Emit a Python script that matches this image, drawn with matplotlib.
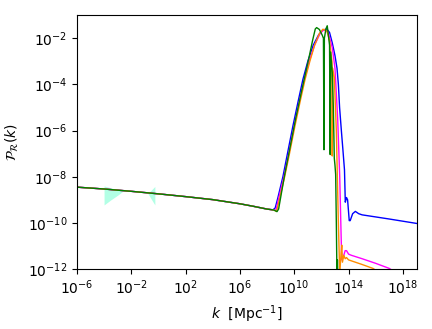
import numpy as np
import matplotlib
matplotlib.use("Agg")
import matplotlib.pyplot as plt

# values as (log10 k, log10 P) pairs
LOWK_LOGK = [-6, -4, -2, 0, 2, 4, 6, 7, 8]
LOWK_LOGP = [-8.45, -8.53, -8.63, -8.74, -8.86, -8.99, -9.17, -9.28, -9.40]

BLUE_LOGK = [8.44, 8.6, 8.8, 9.17, 9.5, 9.9, 10.3, 10.64, 11.0, 11.4, 11.8, 12.1, 12.4,
             12.6, 12.8, 13.0, 13.15, 13.25, 13.34, 13.47, 13.58, 13.7, 13.76, 13.85,
             13.93, 14.05, 14.12, 14.3, 14.5, 14.75, 15.0, 17.0, 19.0]
BLUE_LOGP = [-9.43, -9.35, -8.9, -7.99, -7.0, -5.81, -4.7, -3.78, -3.0, -2.3, -1.85, -1.65, -1.6,
             -1.75, -2.2, -2.75, -3.3, -4.0, -5.0, -6.0, -6.8, -7.7, -9.1, -8.9,
             -9.0, -9.9, -9.9, -9.6, -9.5, -9.6, -9.65, -9.83, -10.02]

MAG_LOGK = [8.5, 8.65, 8.85, 9.25, 9.6, 10.0, 10.4, 10.75, 11.1, 11.5, 11.9, 12.2, 12.5,
            12.8, 13.0, 13.2, 13.35, 13.45, 13.5, 13.6, 13.75, 13.85, 14.0, 14.2, 15.0,
            16.0, 17.0, 17.2]
MAG_LOGP = [-9.44, -9.45, -8.95, -7.99, -7.0, -5.81, -4.7, -3.78, -3.0, -2.3, -1.8, -1.62, -1.75,
            -2.4, -3.3, -5.5, -8.0, -10.5, -11.6, -11.5, -11.2, -11.2, -11.35, -11.4, -11.55,
            -11.75, -11.97, -12.05]

ORANGE_LOGK = [8.5, 8.7, 8.9, 9.3, 9.65, 10.05, 10.45, 10.8, 11.15, 11.5, 11.85, 12.11, 12.4,
               12.6, 12.7, 12.78, 12.8, 12.83, 12.95, 13.1, 13.25, 13.35, 13.45, 13.5, 13.55,
               13.65, 13.75, 13.85, 14.0, 15.0, 15.8, 16.0]
ORANGE_LOGP = [-9.44, -9.5, -9.0, -7.99, -7.0, -5.81, -4.7, -3.78, -3.0, -2.3, -1.8, -1.61, -1.68,
               -2.1, -2.6, -3.0, -7.1, -3.3, -3.7, -6.0, -10.0, -12.2, -11.3, -10.96, -11.7,
               -11.4, -11.55, -11.5, -11.6, -11.8, -11.97, -12.05]

GREEN_LOGK = [8.5, 8.73, 8.85, 9.0, 9.3, 9.7, 10.1, 10.5, 10.8, 11.1, 11.35, 11.55, 11.65,
              11.85, 12.05, 12.15, 12.19, 12.22, 12.33, 12.43, 12.5, 12.6, 12.65, 12.68,
              12.8, 12.88, 12.95, 13.0, 13.05, 13.1, 13.15, 13.18, 13.22]
GREEN_LOGP = [-9.44, -9.51, -9.4, -8.9, -7.9, -6.7, -5.5, -4.4, -3.6, -2.8, -2.1, -1.6, -1.54,
              -1.62, -1.85, -2.0, -6.83, -2.0, -1.6, -1.46, -1.8, -2.3, -7.04, -2.6,
              -3.5, -5.0, -7.2, -7.5, -7.9, -10.0, -12.5, -11.6, -12.5]

# shaded constraint wedges
FILL1_LOGK = [-4.0, -3.5, -3.0, -2.6]
FILL1_UP = [-8.40, -8.48, -8.56, -8.60]
FILL1_LO = [-9.22, -9.0, -8.8, -8.62]
FILL2_LOGK = [-0.76, -0.26]
FILL2_UP = [-8.72, -8.42]
FILL2_LO = [-8.74, -9.22]

fig = plt.figure(figsize=(4.32, 3.29), dpi=100)
ax = fig.add_axes([0.178, 0.182, 0.787, 0.772])

ax.fill_between(10.0**np.array(FILL1_LOGK), 10.0**np.array(FILL1_LO), 10.0**np.array(FILL1_UP),
                color="aquamarine", alpha=0.6, lw=0)
ax.fill_between(10.0**np.array(FILL2_LOGK), 10.0**np.array(FILL2_LO), 10.0**np.array(FILL2_UP),
                color="aquamarine", alpha=0.6, lw=0)

series = [(BLUE_LOGK, BLUE_LOGP, "blue"),
          (MAG_LOGK, MAG_LOGP, "magenta"),
          (ORANGE_LOGK, ORANGE_LOGP, "darkorange"),
          (GREEN_LOGK, GREEN_LOGP, "green")]
for lk, lp, c in series:
    k = 10.0**np.array(LOWK_LOGK + lk)
    p = 10.0**np.array(LOWK_LOGP + lp)
    ax.plot(k, p, color=c, lw=1.0)

ax.set_xscale("log")
ax.set_yscale("log")
ax.set_xlim(1e-6, 10**19.03)
ax.set_ylim(1e-12, 1e-1)
ax.set_xticks([10.0**e for e in range(-6, 19, 4)])
ax.set_yticks([10.0**e for e in range(-12, -1, 2)])
ax.xaxis.set_minor_locator(matplotlib.ticker.NullLocator())
ax.yaxis.set_minor_locator(matplotlib.ticker.NullLocator())

ax.set_xlabel(r"$k$  [Mpc$^{-1}$]")
ax.set_ylabel(r"$\mathcal{P}_\mathcal{R}(k)$")
ax.yaxis.set_label_coords(-0.165, 0.5)

fig.savefig("out.png", dpi=100)
